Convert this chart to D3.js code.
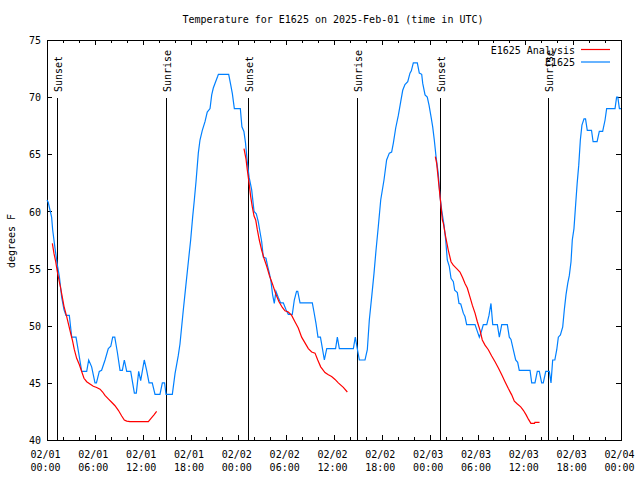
<!DOCTYPE html>
<html>
<head>
<meta charset="utf-8">
<script src="https://cdn.jsdelivr.net/npm/d3@7"></script>
<style>
  html, body { margin: 0; padding: 0; background: #fff; }
  text { font-family: "DejaVu Sans Mono", "Liberation Mono", monospace; font-size: 10px; fill: #000; }
</style>
</head>
<body>
<svg id="chart" width="640" height="480"></svg>
<script>
// ---- data (hours since 2025-02-01 00:00 UTC, temperatures in degrees F) ----
const chartTitle = "Temperature for E1625 on 2025-Feb-01 (time in UTC)";
const yAxisLabel = "degrees F";
const seriesNames = ["E1625 Analysis", "E1625"];

const obsHours = [0.0, 0.15, 0.58, 0.71, 1.0, 1.3, 1.55, 1.84, 2.13, 2.38, 2.8, 3.1, 3.64, 4.05, 4.35, 4.98, 5.23, 5.6, 6.02, 6.2,
  6.56, 6.85, 7.28, 7.69, 8.0, 8.24, 8.5, 8.82, 9.16, 9.45, 9.7, 10.0, 10.5, 10.96, 11.2, 11.5, 11.75, 12.2, 12.5, 12.8,
  13.2, 13.55, 14.17, 14.47, 14.75, 14.93, 15.72, 16.06, 16.47, 16.68, 17.1, 17.4, 17.73, 18.02, 18.27, 18.48, 18.69, 18.98, 19.19, 19.48,
  19.82, 20.1, 20.45, 20.66, 20.86, 21.07, 21.4, 21.5, 22.79, 23.04, 23.25, 23.5, 24.25, 24.45, 24.7, 24.9, 25.1, 25.35, 25.67, 25.97,
  26.25, 26.5, 26.72, 26.93, 27.13, 27.47, 27.68, 27.89, 28.1, 28.3, 28.51, 28.72, 29.0, 29.3, 29.64, 29.98, 30.27, 30.77, 31.02, 31.3,
  31.45, 31.74, 33.28, 33.49, 33.74, 33.99, 34.3, 34.5, 34.79, 35.09, 36.2, 36.42, 36.67, 38.43, 38.67, 38.92, 39.18, 39.89, 40.18, 40.43,
  40.73, 41.02, 41.27, 41.56, 41.86, 42.27, 42.6, 42.94, 43.23, 43.45, 43.74, 44.07, 44.37, 44.62, 44.9, 45.25, 45.53, 45.7, 45.95, 46.45,
  46.7, 47.0, 47.13, 47.42, 47.7, 47.92, 48.17, 48.38, 48.58, 48.8, 49.08, 49.3, 49.51, 49.8, 50.01, 50.21, 50.46, 50.68, 50.97, 51.14,
  51.47, 51.68, 51.9, 52.22, 52.43, 52.64, 53.69, 53.98, 54.23, 54.53, 54.73, 55.16, 55.44, 55.69, 55.91, 56.49, 56.74, 57.04, 57.74, 57.99,
  58.2, 58.49, 58.79, 59.04, 59.24, 60.59, 60.8, 61.21, 61.5, 61.75, 62.05, 62.25, 62.56, 63.01, 63.22, 63.43, 63.7, 63.94, 64.14, 64.4,
  64.69, 64.89, 65.1, 65.32, 65.52, 65.73, 65.89, 66.1, 66.32, 66.5, 66.7, 66.9, 67.1, 67.36, 67.55, 67.77, 68.3, 68.5, 69.0, 69.28,
  69.7, 70.0, 70.2, 71.25, 71.45, 71.6, 71.8, 72.0];
const obsTemps = [61.0, 60.8, 59.5, 58.4, 56.8, 55.3, 54.3, 52.5, 51.4, 50.9, 50.9, 49.0, 49.0, 47.3, 46.0, 46.0, 47.0, 46.4, 45.0, 45.0,
  46.0, 46.1, 47.0, 48.0, 48.2, 49.0, 49.0, 47.7, 46.1, 46.1, 47.0, 46.0, 46.0, 44.1, 44.1, 46.0, 45.2, 47.0, 46.1, 45.0,
  45.0, 44.0, 44.0, 45.0, 45.0, 44.0, 44.0, 45.8, 47.4, 48.4, 51.4, 53.4, 55.6, 57.5, 59.5, 61.0, 62.6, 65.1, 66.25, 67.1,
  67.85, 68.7, 69.0, 70.2, 70.8, 71.2, 71.8, 72.0, 72.0, 71.1, 70.3, 69.0, 69.0, 67.4, 67.0, 66.0, 64.5, 63.0, 61.9, 60.0,
  59.8, 59.1, 58.2, 57.35, 56.0, 55.9, 55.2, 54.6, 53.85, 52.7, 51.95, 53.0, 52.5, 52.0, 52.0, 51.4, 51.0, 51.0, 52.25, 53.0,
  53.0, 52.0, 52.0, 51.2, 50.2, 49.0, 49.0, 48.2, 47.0, 48.0, 48.0, 49.0, 48.0, 48.0, 49.0, 48.0, 47.0, 47.0, 47.9, 50.5,
  52.55, 54.6, 56.6, 58.7, 61.0, 62.75, 64.5, 65.1, 65.2, 66.0, 67.3, 68.4, 69.6, 70.6, 71.1, 71.35, 72.1, 72.3, 73.0, 73.0,
  72.1, 72.0, 71.2, 70.2, 70.0, 69.3, 68.3, 67.4, 66.25, 64.8, 63.3, 61.3, 60.1, 58.8, 57.5, 55.75, 55.2, 54.15, 53.85, 53.1,
  52.9, 51.95, 51.9, 51.1, 50.8, 50.1, 50.1, 49.5, 49.0, 49.6, 50.1, 50.1, 50.9, 51.95, 50.1, 50.1, 49.0, 50.1, 50.1, 49.0,
  48.8, 47.9, 47.0, 46.8, 46.1, 46.1, 45.0, 45.0, 46.0, 46.0, 45.0, 45.0, 46.0, 46.0, 45.0, 47.0, 47.0, 47.9, 49.0, 49.2,
  49.9, 51.4, 52.7, 53.7, 54.4, 55.6, 57.5, 58.5, 60.7, 62.45, 64.05, 66.25, 67.55, 68.1, 68.1, 67.1, 67.1, 66.1, 66.1, 67.0,
  67.0, 68.0, 69.0, 69.0, 70.0, 70.0, 69.0, 69.0];

const analysisHours1 = [0.67, 0.88, 1.09, 1.3, 1.5, 1.71, 1.92, 2.13, 2.47, 2.88, 3.18, 3.43, 3.72, 4.05, 4.35, 4.64, 4.98, 5.39, 5.81, 6.23,
  6.65, 6.98, 7.27, 7.69, 8.11, 8.53, 8.95, 9.37, 9.7, 10.0, 10.41, 12.71, 13.05, 13.42, 13.75];
const analysisTemps1 = [57.2, 56.3, 55.6, 54.7, 54.0, 53.3, 52.5, 51.7, 50.8, 49.6, 48.75, 47.9, 47.15, 46.6, 46.0, 45.4, 45.1, 44.9, 44.7, 44.6,
  44.45, 44.2, 43.9, 43.6, 43.3, 43.0, 42.6, 42.1, 41.75, 41.65, 41.6, 41.6, 41.9, 42.2, 42.5];

const analysisHours2 = [24.71, 24.96, 25.13, 25.34, 25.55, 25.75, 25.97, 26.18, 26.38, 26.63, 26.93, 27.22, 27.56, 27.89, 28.26, 28.69, 29.1, 29.52, 29.85, 30.27,
  30.69, 31.1, 31.52, 31.94, 32.36, 32.78, 33.2, 33.62, 33.96, 34.33, 34.87, 35.29, 35.7, 36.13, 36.54, 37.17, 37.67];
const analysisTemps2 = [65.5, 64.6, 63.6, 62.5, 61.3, 60.4, 59.6, 59.25, 58.4, 57.5, 56.6, 55.9, 55.2, 54.4, 53.7, 52.8, 52.1, 51.6, 51.3, 51.2,
  50.9, 50.35, 49.8, 49.0, 48.5, 48.0, 47.7, 47.6, 47.0, 46.4, 45.9, 45.7, 45.55, 45.3, 45.0, 44.6, 44.2];

const analysisHours3 = [48.71, 48.88, 49.01, 49.17, 49.39, 49.59, 49.72, 50.0, 50.34, 50.68, 50.96, 51.39, 51.8, 52.14, 52.43, 52.72, 53.06, 53.35, 53.69, 53.98,
  54.32, 54.6, 54.94, 55.36, 55.78, 56.2, 56.62, 57.04, 57.45, 57.87, 58.29, 58.62, 59.0, 59.42, 59.75, 60.1, 60.4, 60.7, 61.15, 61.2, 61.78];
const analysisTemps3 = [64.8, 64.2, 63.3, 62.2, 60.7, 59.25, 58.95, 57.8, 56.6, 55.6, 55.3, 55.0, 54.7, 54.2, 53.7, 53.3, 52.5, 51.8, 51.1, 50.35,
  49.6, 48.75, 48.3, 47.9, 47.35, 46.85, 46.3, 45.7, 45.1, 44.5, 43.95, 43.4, 43.15, 42.9, 42.6, 42.2, 41.8, 41.45, 41.45, 41.55, 41.55];

const sunEventHours = [1.3, 14.9, 25.25, 38.92, 49.33, 62.88];
const sunEventLabels = ["Sunset", "Sunrise", "Sunset", "Sunrise", "Sunset", "Sunrise"];

const yTicks = [40, 45, 50, 55, 60, 65, 70, 75];
const yDomain = [40, 75];
const startTime = Date.UTC(2025, 1, 1, 0, 0);
const spanHours = 72;

// ---- drawing ----
const HOUR = 3600 * 1000;
const toDate = h => new Date(startTime + h * HOUR);

const svg = d3.select("#chart");
svg.append("rect").attr("width", 640).attr("height", 480).attr("fill", "#fff");

const L = 47, R = 621, T = 40, B = 440;
const x = d3.scaleUtc().domain([toDate(0), toDate(spanHours)]).range([L, R]);
const y = d3.scaleLinear().domain(yDomain).range([B, T]);

const majorTicks = d3.utcHour.every(6).range(toDate(0), toDate(spanHours + 0.01));
const minorTicks = d3.utcHour.every(2).range(toDate(0), toDate(spanHours + 0.01));

// bottom axis
svg.append("g").attr("transform", `translate(0,${B})`)
  .call(d3.axisBottom(x).tickValues(minorTicks).tickSize(-3).tickFormat(""))
  .call(g => g.select(".domain").remove());
svg.append("g").attr("transform", `translate(0,${B})`)
  .call(d3.axisBottom(x).tickValues(majorTicks).tickSize(-5).tickFormat(""))
  .call(g => g.select(".domain").remove());
// top mirror
svg.append("g").attr("transform", `translate(0,${T})`)
  .call(d3.axisTop(x).tickValues(minorTicks).tickSize(-3).tickFormat(""))
  .call(g => g.select(".domain").remove());
svg.append("g").attr("transform", `translate(0,${T})`)
  .call(d3.axisTop(x).tickValues(majorTicks).tickSize(-5).tickFormat(""))
  .call(g => g.select(".domain").remove());
// left axis
svg.append("g").attr("transform", `translate(${L},0)`)
  .call(d3.axisLeft(y).tickValues(yTicks).tickSize(-5).tickPadding(6).tickFormat(d3.format("d")))
  .call(g => g.select(".domain").remove())
  .call(g => g.selectAll("text").attr("font-size", null).attr("font-family", null).attr("dy", "0.36em"));
// right mirror
svg.append("g").attr("transform", `translate(${R},0)`)
  .call(d3.axisRight(y).tickValues(yTicks).tickSize(-5).tickFormat(""))
  .call(g => g.select(".domain").remove());

svg.selectAll(".tick line").attr("stroke", "#000").attr("shape-rendering", "crispEdges");

// x tick labels (two lines)
const fmtDay = d3.utcFormat("%m/%d"), fmtTime = d3.utcFormat("%H:%M");
const xl = svg.append("g").selectAll("text").data(majorTicks).join("text")
  .attr("text-anchor", "middle")
  .attr("transform", d => `translate(${x(d) - 1.5},0)`);
xl.append("tspan").attr("x", 0).attr("y", 458).text(d => fmtDay(d));
xl.append("tspan").attr("x", 0).attr("y", 470.5).text(d => fmtTime(d));

// frame
svg.append("rect").attr("x", L + 0.5).attr("y", T + 0.5).attr("width", R - L).attr("height", B - T)
  .attr("fill", "none").attr("stroke", "#000").attr("shape-rendering", "crispEdges");

// sunrise / sunset markers
const sun = svg.append("g");
sun.selectAll("line").data(sunEventHours).join("line")
  .attr("x1", d => Math.round(x(toDate(d))) + 0.5).attr("x2", d => Math.round(x(toDate(d))) + 0.5)
  .attr("y1", 98).attr("y2", B)
  .attr("stroke", "#000").attr("stroke-width", 1).attr("shape-rendering", "crispEdges");
sun.selectAll("text").data(sunEventHours).join("text")
  .attr("transform", d => `translate(${Math.round(x(toDate(d))) + 5},92) rotate(-90)`)
  .attr("text-anchor", "start")
  .text((d, i) => sunEventLabels[i]);

// series
const line = d3.line().x(d => x(toDate(d[0]))).y(d => y(d[1]));
const obs = d3.zip(obsHours, obsTemps);
svg.append("path").datum(obs).attr("d", line)
  .attr("fill", "none").attr("stroke", "#0080ff").attr("stroke-width", 1.2);

[[analysisHours1, analysisTemps1], [analysisHours2, analysisTemps2], [analysisHours3, analysisTemps3]].forEach(([h, t]) => {
  svg.append("path").datum(d3.zip(h, t)).attr("d", line)
    .attr("fill", "none").attr("stroke", "#ff0000").attr("stroke-width", 1.2);
});

// title & y label
svg.append("text").attr("x", 333).attr("y", 23).attr("text-anchor", "middle").text(chartTitle);
svg.append("text").attr("transform", "translate(15,241) rotate(-90)").attr("text-anchor", "middle").text(yAxisLabel);

// legend
const legendColors = ["#ff0000", "#0080ff"];
const lg = svg.append("g").selectAll("g").data(seriesNames).join("g")
  .attr("transform", (d, i) => `translate(0,${49.5 + i * 12.5})`);
lg.append("text").attr("x", 575).attr("y", 4).attr("text-anchor", "end").text(d => d);
lg.append("line").attr("x1", 581).attr("x2", 610).attr("y1", 0).attr("y2", 0)
  .attr("stroke", (d, i) => legendColors[i]).attr("stroke-width", 1.2);
</script>
</body>
</html>
